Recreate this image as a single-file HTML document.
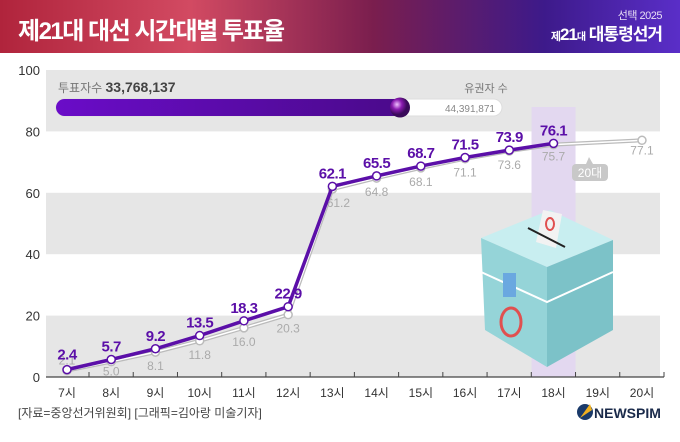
<!DOCTYPE html>
<html><head><meta charset="utf-8">
<style>
body{margin:0;width:680px;height:442px;overflow:hidden;background:#fff;font-family:"Liberation Sans","Noto Sans CJK KR",sans-serif;}
#hdr{position:absolute;left:0;top:0;width:680px;height:53px;background:linear-gradient(90deg,#b0243c 0%,#d24a62 28%,#7a1e4e 55%,#3d1a8a 80%,#5a2ec8 100%);}
#title{position:absolute;left:18px;top:11px;color:#fff;font-size:24px;font-weight:bold;letter-spacing:-1.5px;}
#brand1{position:absolute;right:18px;top:7px;color:#e8dff5;font-size:11px;letter-spacing:-0.5px;}
#brand2{position:absolute;right:18px;top:20px;color:#fff;font-size:17px;font-weight:bold;letter-spacing:-1px;}
</style></head><body>
<div id="hdr">
<div id="title">제21대 대선 시간대별 투표율</div>
<div id="brand1">선택 2025</div>
<div id="brand2"><span style="font-size:11px">제</span>21<span style="font-size:10px">대</span> 대통령선거</div>
</div>
<svg id="chart" width="680" height="442" style="position:absolute;left:0;top:0">
<defs>
<linearGradient id="bar" x1="0" x2="1"><stop offset="0" stop-color="#6a0cc8"/><stop offset="1" stop-color="#4a0a8a"/></linearGradient>
<radialGradient id="ball" cx="0.35" cy="0.35"><stop offset="0" stop-color="#f0c0ff"/><stop offset="0.5" stop-color="#8a1ab0"/><stop offset="1" stop-color="#3a0a5a"/></radialGradient>
</defs>
<g id="grid"></g>
<g id="box">
<polygon points="481,238 550,210 613,240 547,267" fill="#c8eef0"/>
<polygon points="536,242 543,210 562,214 556,248" fill="#f2f2f2"/>
<polygon points="481,238 547,267 547,367 485,330" fill="#95d4d8"/>
<polygon points="547,267 613,240 613,330 547,367" fill="#7cc2c8"/>
<line x1="528" y1="228" x2="565" y2="247" stroke="#222" stroke-width="2"/>
<polyline points="481,272 547,302 613,272" fill="none" stroke="#fff" stroke-width="2"/>
<rect x="503" y="273" width="13" height="24" fill="#6aa8e0"/>
<ellipse cx="511" cy="322" rx="10" ry="14" fill="none" stroke="#e05050" stroke-width="3"/>
<ellipse cx="550" cy="224" rx="4" ry="6" fill="none" stroke="#e05050" stroke-width="2"/>
</g>
<g id="series"></g>
<g id="axes"></g>
<g>
<text x="58" y="92" font-size="12" fill="#777">투표자수 <tspan font-size="14" font-weight="bold" fill="#444">33,768,137</tspan></text>
<text x="486" y="92" font-size="11" fill="#777" text-anchor="middle">유권자 수</text>
<rect x="56" y="99" width="446" height="17" rx="8.5" fill="#fff" stroke="#ddd"/>
<rect x="56" y="99" width="350" height="17" rx="8.5" fill="url(#bar)"/>
<circle cx="400" cy="107.5" r="10" fill="url(#ball)"/>
<text x="495" y="112" font-size="10" fill="#888" text-anchor="end">44,391,871</text>
</g>
<rect x="572" y="164" width="36" height="17" rx="4" fill="#c8c8c8"/>
<polygon points="586,164 593,164 589,157" fill="#c8c8c8"/>
<text x="590" y="177" font-size="12" fill="#fff" text-anchor="middle">20대</text>
<text x="18" y="417" font-size="12" fill="#444">[자료=중앙선거위원회] [그래픽=김아랑 미술기자]</text>
<circle cx="585" cy="412" r="8" fill="#1a3a6a"/>
<path d="M580,418 L590,404 L592,410 Z" fill="#f0b020"/>
<text x="594" y="418" font-size="14" font-weight="bold" fill="#1a2a4a">NEWSPIM</text>
</svg>
<script>
const categories=["7시","8시","9시","10시","11시","12시","13시","14시","15시","16시","17시","18시","19시","20시"];
const turnout2025=[2.4,5.7,9.2,13.5,18.3,22.9,62.1,65.5,68.7,71.5,73.9,76.1,null,null];
const turnout2022=[2.1,5.0,8.1,11.8,16.0,20.3,61.2,64.8,68.1,71.1,73.6,75.7,null,77.1];
const yTicks=[0,20,40,60,80,100];
const NS="http://www.w3.org/2000/svg";
const X=i=>67+i*44.23, Y=v=>377-v*3.07;
function mk(p,t,a){const e=document.createElementNS(NS,t);for(const k in a)e.setAttribute(k,a[k]);p.appendChild(e);return e;}
const grid=document.getElementById('grid'),ax=document.getElementById('axes'),se=document.getElementById('series');
for(let k=0;k<5;k++){if(k%2===0){const r=mk(grid,'rect',{x:46,y:Y(yTicks[k+1]),width:614,height:Y(yTicks[k])-Y(yTicks[k+1]),fill:'#e6e6e6'});

}}
const hl=mk(grid,'rect',{x:X(11)-22,y:107,width:44,height:270,fill:'#e3d8f0'});


yTicks.forEach(v=>{const t=mk(ax,'text',{x:40,y:Y(v)+5,'font-size':13,fill:'#333','text-anchor':'end'});t.textContent=v;

});
mk(ax,'line',{x1:46,y1:377,x2:664,y2:377,stroke:'#444','stroke-width':1.2});
categories.forEach((c,i)=>{mk(ax,'line',{x1:X(i)+22,y1:377,x2:X(i)+22,y2:372,stroke:'#444'});
const t=mk(ax,'text',{x:X(i),y:397,'font-size':12,fill:'#333','text-anchor':'middle'});t.textContent=c;

});
function pts(arr){return arr.map((v,i)=>v==null?null:[X(i),Y(v)]).filter(p=>p);}
const g=pts(turnout2022);
const gl=mk(se,'polyline',{points:g.map(p=>p.join(',')).join(' '),fill:'none',stroke:'#bbb','stroke-width':4});


mk(se,'polyline',{points:g.map(p=>p.join(',')).join(' '),fill:'none',stroke:'#fff','stroke-width':1.5});
turnout2022.forEach((v,i)=>{if(v==null)return;const c=mk(se,'circle',{cx:X(i),cy:Y(v),r:4,fill:'#fff',stroke:'#bbb','stroke-width':1.5});


let dy=18;if(i===0)dy=-6;if(i===1)dy=14;if(i===11)dy=16;if(i===13)dy=14;
const t=mk(se,'text',{x:X(i)+(i===6?6:0),y:Y(v)+dy,'font-size':12,fill:'#aaa','text-anchor':'middle'});t.textContent=v.toFixed(1);

});
const p=pts(turnout2025);
const pl=mk(se,'polyline',{points:p.map(q=>q.join(',')).join(' '),fill:'none',stroke:'#5b0fa8','stroke-width':3.5});


turnout2025.forEach((v,i)=>{if(v==null)return;const c=mk(se,'circle',{cx:X(i),cy:Y(v),r:4,fill:'#fff',stroke:'#5b0fa8','stroke-width':1.5});


const t=mk(se,'text',{x:X(i),y:Y(v)-(i===0?10:8),'font-size':15,'font-weight':'bold',fill:'#5b0fa8','text-anchor':'middle','letter-spacing':'-0.5'});t.textContent=v.toFixed(1);

});
</script>
</body></html>
